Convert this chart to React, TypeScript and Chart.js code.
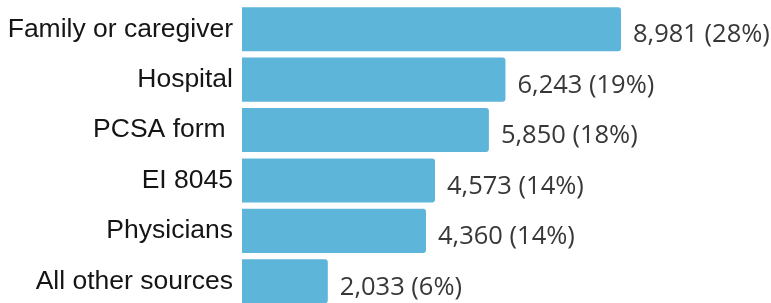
import React, { useEffect, useRef } from "react";
import { Chart, registerables } from "chart.js";

Chart.register(...registerables);

const CATEGORIES = ["Family or caregiver", "Hospital", "PCSA form ", "EI 8045", "Physicians", "All other sources"];
const VALUES = [8981, 6243, 5850, 4573, 4360, 2033];
const PERCENTS = [28, 19, 18, 14, 14, 6];
const BAR_COLOR = "#5db5da";
const X_MAX = 12535;

const valueLabels = {
  id: "valueLabels",
  afterDatasetsDraw(chart: any) {
    const ctx = chart.ctx;
    const meta = chart.getDatasetMeta(0);
    ctx.save();
    ctx.font = '400 25.5px "Open Sans", sans-serif';
    ctx.fillStyle = "#383838";
    ctx.textAlign = "left";
    ctx.textBaseline = "middle";
    meta.data.forEach((bar: any, i: number) => {
      const text = VALUES[i].toLocaleString("en-US") + " (" + PERCENTS[i] + "%)";
      ctx.fillText(text, bar.x + 12, bar.y + 6);
    });
    ctx.restore();
  },
};

export default function App() {
  const ref = useRef<HTMLCanvasElement>(null);
  useEffect(() => {
    const chart = new Chart(ref.current!, {
      type: "bar",
      data: {
        labels: CATEGORIES,
        datasets: [
          {
            data: VALUES,
            backgroundColor: BAR_COLOR,
            borderRadius: 3,
            borderSkipped: "start",
            categoryPercentage: 1,
            barPercentage: 0.875,
          },
        ],
      },
      options: {
        indexAxis: "y",
        animation: false,
        responsive: false,
        devicePixelRatio: 1,
        layout: { padding: { top: 4, bottom: 3.5, left: 0, right: 0 } },
        plugins: { legend: { display: false }, tooltip: { enabled: false } },
        scales: {
          x: { display: false, min: 0, max: X_MAX },
          y: {
            grid: { display: false, drawTicks: false },
            border: { display: false },
            ticks: {
              padding: 9,
              color: "#151515",
              font: { family: '"Liberation Sans", Arial, sans-serif', size: 26.5 },
            },
            afterFit(scale: any) {
              scale.width = 242;
              scale.paddingTop = 0;
              scale.paddingBottom = 0;
            },
          },
        },
      },
      plugins: [valueLabels],
    });
    return () => chart.destroy();
  }, []);
  return (
    <div style={{ position: "fixed", left: 0, top: 0, width: 771, height: 310, background: "#fff" }}>
      <canvas ref={ref} width={771} height={310} style={{ width: 771, height: 310, display: "block" }} />
    </div>
  );
}
